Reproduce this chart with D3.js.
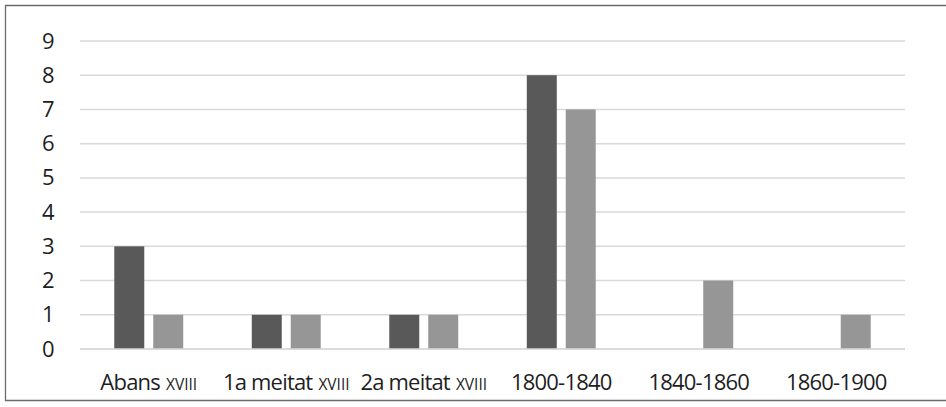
<!DOCTYPE html>
<html>
<head>
<meta charset="utf-8">
<script src="https://cdn.jsdelivr.net/npm/d3@7"></script>
<style>
  html, body { margin: 0; padding: 0; background: #fff; }
  svg { display: block; }
  .tick-label { font-family: "Open Sans", "Noto Sans", sans-serif; fill: #1e1e1e; }
</style>
</head>
<body>
<svg id="chart" width="946" height="407"></svg>
<script>
// ── data ───────────────────────────────────────────────────────────────
const categories = ["Abans", "1a meitat", "2a meitat", "1800-1840", "1840-1860", "1860-1900"];
const suffixes   = ["xviii", "xviii", "xviii", "", "", ""];   // set in small caps
const series     = ["Sèrie 1", "Sèrie 2"];
const serie1     = [3, 1, 1, 8, 0, 0];
const serie2     = [1, 1, 1, 7, 2, 1];
const yTicks     = [0, 1, 2, 3, 4, 5, 6, 7, 8, 9];
const colors     = ["#595959", "#969696"];

(function () {
  "use strict";

  const svg = d3.select("#chart");
  const W = 946, H = 407;
  const m = { left: 80, right: 41, top: 41, bottom: 58 };

  // outer frame (open on the right side, as in the source)
  svg.append("path")
    .attr("d", `M${W},5.5 H5.5 V400.5 H${W}`)
    .attr("fill", "none")
    .attr("stroke", "#6b6b6b")
    .attr("stroke-width", 1.3);

  const x = d3.scaleBand()
    .domain(categories)
    .range([m.left, W - m.right]);

  // two bars per category: 30px wide, 9px apart
  const x1 = d3.scaleBand()
    .domain(series)
    .range([0, x.bandwidth()])
    .paddingInner(0.23)
    .paddingOuter(0.88);

  const y = d3.scaleLinear()
    .domain([0, 9])
    .range([H - m.bottom, m.top]);

  // gridlines
  svg.append("g")
    .selectAll("line")
    .data(yTicks)
    .join("line")
    .attr("x1", m.left).attr("x2", W - m.right)
    .attr("y1", d => y(d)).attr("y2", d => y(d))
    .attr("stroke", "#d9d9d9")
    .attr("stroke-width", 1.5);

  // y axis labels
  const yAxis = svg.append("g")
    .attr("transform", `translate(${m.left},0)`)
    .call(d3.axisLeft(y).tickValues(yTicks).tickSize(0).tickPadding(26));
  yAxis.select(".domain").remove();
  yAxis.selectAll("text")
    .attr("class", "tick-label")
    .attr("font-size", 22)
    .attr("letter-spacing", "-0.5px");

  // bars
  const rows = categories.map((c, i) => ({ cat: c, vals: [serie1[i], serie2[i]] }));
  const grp = svg.append("g").selectAll("g")
    .data(rows)
    .join("g")
    .attr("transform", d => `translate(${x(d.cat)},0)`);

  grp.selectAll("rect")
    .data(d => d.vals.map((v, j) => ({ s: series[j], v: v, j: j })).filter(e => e.v > 0))
    .join("rect")
    .attr("x", e => x1(e.s))
    .attr("width", x1.bandwidth())
    .attr("y", e => y(e.v))
    .attr("height", e => y(0) - y(e.v))
    .attr("fill", e => colors[e.j]);

  // baseline on top of bars
  svg.append("line")
    .attr("x1", m.left).attr("x2", W - m.right)
    .attr("y1", y(0)).attr("y2", y(0))
    .attr("stroke", "#d9d9d9")
    .attr("stroke-width", 1.5);

  // x labels with small caps suffix
  const lbl = svg.append("g").selectAll("text")
    .data(categories)
    .join("text")
    .attr("class", "tick-label")
    .attr("x", d => x(d) + x.bandwidth() / 2)
    .attr("y", 390)
    .attr("text-anchor", "middle")
    .attr("font-size", 22)
    .attr("letter-spacing", "-0.8px");

  lbl.append("tspan").text(d => d);
  lbl.append("tspan")
    .attr("font-size", 15.5)
    .attr("dx", 6)
    .attr("letter-spacing", "0px")
    .text((d, i) => suffixes[i] ? suffixes[i].toUpperCase() : "");
})();
</script>
</body>
</html>
